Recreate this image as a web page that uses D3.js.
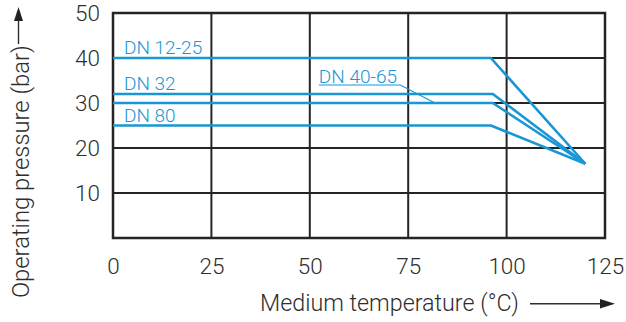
<!DOCTYPE html>
<html><head><meta charset="utf-8">
<script src="https://cdn.jsdelivr.net/npm/d3@7"></script>
<style>
html,body{margin:0;padding:0;background:#fff;}
svg{display:block;font-family:Roboto,"Liberation Sans",Arial,sans-serif;font-weight:300;}
</style></head>
<body><svg id="c" width="626" height="322"></svg>
<script>
// ---- data ----
const seriesNames = ["DN 12-25", "DN 32", "DN 40-65", "DN 80"];
const ratedPressure = [40, 32, 30, 25];        // bar, flat part
const kneeTemperature = [96, 96.5, 96.5, 96];  // °C where derating starts
const endTemperature = [120, 120, 120, 120];   // °C
const endPressure = [16.5, 16.5, 16.5, 16.5];  // bar
const xTicks = [0, 25, 50, 75, 100, 125];
const yTicks = [10, 20, 30, 40, 50];
const leaderTemps = [52.3, 73, 81.8];          // DN 40-65 label leader
const leaderPress = [34, 34, 30];

const xTitle = "Medium temperature (°C)";
const yTitle = "Operating pressure (bar)";

// ---- layout ----
const FONT = 'Roboto,"Liberation Sans",Arial,sans-serif';
const svg = d3.select("#c");
const x = d3.scaleLinear().domain([0, 125]).range([113, 605]);
const y = d3.scaleLinear().domain([0, 50]).range([238, 13]);
const blue = "#1996d4", ink = "#2e2e2e", gridC = "#262324";

// grid
const g = svg.append("g");
g.selectAll("line.v").data(xTicks.filter(t => t > 0 && t < 125)).join("line")
  .attr("x1", d => x(d)).attr("x2", d => x(d)).attr("y1", y(0)).attr("y2", y(50))
  .attr("stroke", gridC).attr("stroke-width", 2);
g.selectAll("line.h").data(yTicks.filter(t => t < 50)).join("line")
  .attr("x1", x(0)).attr("x2", x(125)).attr("y1", d => y(d)).attr("y2", d => y(d))
  .attr("stroke", gridC).attr("stroke-width", 2);
g.append("rect").attr("x", x(0)).attr("y", y(50)).attr("width", x(125) - x(0)).attr("height", y(0) - y(50))
  .attr("fill", "none").attr("stroke", gridC).attr("stroke-width", 2.5);

// axes (labels only)
const ax = svg.append("g").attr("transform", `translate(0,${y(0)})`)
  .call(d3.axisBottom(x).tickValues(xTicks).tickSize(0).tickPadding(20));
const ay = svg.append("g").attr("transform", `translate(${x(0)},0)`)
  .call(d3.axisLeft(y).tickValues(yTicks).tickSize(0).tickPadding(13));
[ax, ay].forEach(a => {
  a.attr("font-family", FONT).attr("font-size", 22.5).attr("font-weight", 300);
  a.select(".domain").remove();
  a.selectAll("text").attr("fill", ink);
});

// series lines
const line = d3.line().x(d => x(d[0])).y(d => y(d[1]));
const seriesData = seriesNames.map((n, i) => ({
  name: n,
  pts: [[0, ratedPressure[i]], [kneeTemperature[i], ratedPressure[i]], [endTemperature[i], endPressure[i]]]
}));
svg.append("g").selectAll("path").data(seriesData).join("path")
  .attr("d", d => line(d.pts)).attr("fill", "none")
  .attr("stroke", blue).attr("stroke-width", 2.6).attr("stroke-linejoin", "round");

// labels
const lab = svg.append("g").attr("font-size", 19).attr("fill", blue);
seriesData.forEach((d, i) => {
  if (d.name === "DN 40-65") {
    lab.append("text").attr("x", x(leaderTemps[0])).attr("y", y(leaderPress[0]) - 2.5).text(d.name);
  } else {
    lab.append("text").attr("x", x(0) + 11).attr("y", y(ratedPressure[i]) - 3.8).text(d.name);
  }
});
svg.append("path")
  .attr("d", line(leaderTemps.map((t, i) => [t, leaderPress[i]])))
  .attr("fill", "none").attr("stroke", blue).attr("stroke-width", 1.2);

// axis titles
svg.append("text").attr("x", 260).attr("y", 311).attr("font-size", 23.3).attr("fill", ink).text(xTitle);
svg.append("line").attr("x1", 530).attr("x2", 603).attr("y1", 303.7).attr("y2", 303.7)
  .attr("stroke", ink).attr("stroke-width", 1.4);
svg.append("path").attr("d", "M615,303.7 L600,299 L600,308.4 Z").attr("fill", "#222");

svg.append("text").attr("transform", "translate(28.5,298) rotate(-90)")
  .attr("font-size", 23.8).attr("fill", ink).text(yTitle);
svg.append("line").attr("x1", 18.5).attr("x2", 18.5).attr("y1", 44).attr("y2", 19)
  .attr("stroke", ink).attr("stroke-width", 1.4);
svg.append("path").attr("d", "M18.5,7 L14,21 L23,21 Z").attr("fill", "#222");
</script></body></html>
